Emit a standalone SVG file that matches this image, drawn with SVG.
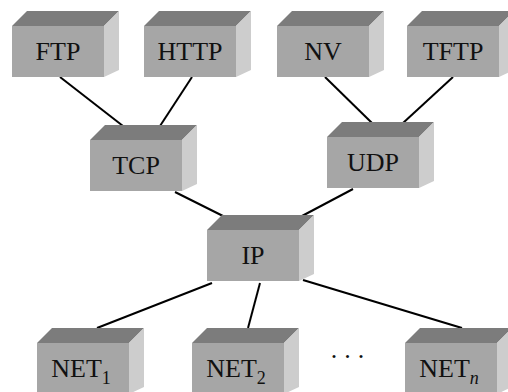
<svg xmlns="http://www.w3.org/2000/svg" width="508" height="392" viewBox="0 0 508 392">
<style>
.front{fill:#a6a6a6}
.top{fill:#7c7c7c}
.side{fill:#cdcdcd}
.lbl{font-family:"Liberation Serif","Times New Roman",serif;font-size:26px;fill:#111;text-anchor:middle}
.sub{font-size:18px}
.conn line{stroke:#000;stroke-width:2}
</style>
<defs>
<g id="box">
<polygon class="top" points="0,0 15,-15 107,-15 92,0"/>
<polygon class="side" points="92,0 107,-15 107,44 92,51"/>
<rect class="front" x="0" y="0" width="92" height="51"/>
</g>
</defs>
<rect width="508" height="392" fill="#fff"/>
<g id="connectors" class="conn">
<line x1="60" y1="77" x2="123" y2="126"/>
<line x1="192" y1="77" x2="160" y2="126"/>
<line x1="325" y1="77" x2="372" y2="123"/>
<line x1="453" y1="77" x2="403" y2="123"/>
<line x1="175" y1="192" x2="223" y2="216"/>
<line x1="353" y1="189" x2="302" y2="216"/>
<line x1="212" y1="283" x2="97" y2="328"/>
<line x1="260" y1="283" x2="248" y2="328"/>
<line x1="303" y1="280" x2="462" y2="328"/>
</g>
<g id="ftp"><use href="#box" x="12" y="26"/><text class="lbl" x="58" y="60">FTP</text></g>
<g id="http"><use href="#box" x="144" y="26"/><text class="lbl" x="190" y="60">HTTP</text></g>
<g id="nv"><use href="#box" x="277" y="26"/><text class="lbl" x="323" y="60">NV</text></g>
<g id="tftp"><use href="#box" x="407" y="26"/><text class="lbl" x="453" y="60">TFTP</text></g>
<g id="tcp"><use href="#box" x="90" y="140"/><text class="lbl" x="136" y="174">TCP</text></g>
<g id="udp"><use href="#box" x="327" y="137"/><text class="lbl" x="373" y="171">UDP</text></g>
<g id="ip"><use href="#box" x="207" y="230"/><text class="lbl" x="253" y="264">IP</text></g>
<g id="net1"><use href="#box" x="37" y="343"/><text class="lbl" x="81" y="377">NET<tspan class="sub" dy="7">1</tspan></text></g>
<g id="net2"><use href="#box" x="192" y="343"/><text class="lbl" x="236" y="377">NET<tspan class="sub" dy="7">2</tspan></text></g>
<g id="dots"><text class="lbl" x="351" y="358" letter-spacing="7">...</text></g>
<g id="netn"><use href="#box" x="405" y="343"/><text class="lbl" x="449" y="377">NET<tspan class="sub" dy="7" font-style="italic">n</tspan></text></g>
</svg>
